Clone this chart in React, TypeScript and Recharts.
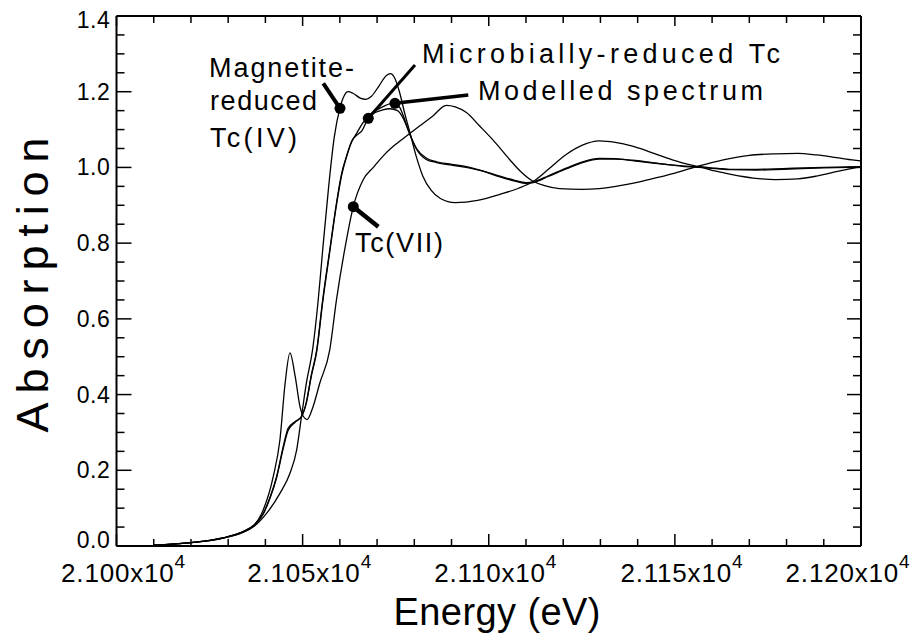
import React from 'react';
import { LineChart, Line, XAxis, YAxis, ReferenceDot, ReferenceLine } from 'recharts';

const FONT = '"Liberation Sans", Arial, Helvetica, sans-serif';

// ---- Data (energy in eV, normalised absorption) ----
const magnetiteE = [21010, 21015, 21020, 21025, 21030, 21034, 21037, 21040.3, 21043.9, 21046.6, 21048.4, 21049.7, 21051, 21052.7, 21054.2, 21055.4, 21057, 21058.5, 21060, 21061.2, 21062.2, 21063.5, 21065.5, 21067, 21068.5, 21070.5, 21072.5, 21073.6, 21074.8, 21076, 21077.5, 21078.8, 21080.5, 21082.3, 21084.5, 21087, 21091, 21097, 21103, 21108, 21111.8, 21116, 21120.8, 21125, 21129.7, 21134, 21138.6, 21143, 21147.6, 21152, 21156.5, 21161, 21165.4, 21171, 21177, 21183, 21188, 21194, 21200];
const magnetiteA = [0.003, 0.005, 0.009, 0.014, 0.024, 0.036, 0.052, 0.086, 0.139, 0.192, 0.254, 0.342, 0.43, 0.52, 0.651, 0.783, 0.95, 1.08, 1.156, 1.19, 1.2, 1.196, 1.183, 1.18, 1.188, 1.215, 1.243, 1.248, 1.235, 1.2, 1.14, 1.093, 1.03, 0.977, 0.94, 0.918, 0.907, 0.913, 0.929, 0.945, 0.962, 0.995, 1.034, 1.058, 1.07, 1.066, 1.056, 1.042, 1.026, 1.012, 1.002, 0.99, 0.981, 0.972, 0.968, 0.97, 0.977, 0.99, 1.002];

const microbialE = [21010, 21015, 21020, 21025, 21030, 21034, 21037, 21039.4, 21041.3, 21043, 21044.8, 21046.1, 21048, 21049.7, 21051, 21052.3, 21053.8, 21055.4, 21057.3, 21059, 21060.5, 21061.8, 21063.2, 21064.5, 21066, 21067.6, 21069.5, 21071.5, 21073.4, 21075.5, 21077, 21078.5, 21080.6, 21083.2, 21086, 21090, 21094, 21098.5, 21103, 21107, 21110, 21112, 21116, 21120.8, 21125, 21129.7, 21134, 21138.6, 21143, 21147.6, 21152, 21156.5, 21161, 21165, 21172, 21179, 21190, 21200];
const microbialA = [0.003, 0.005, 0.009, 0.015, 0.025, 0.038, 0.056, 0.086, 0.13, 0.183, 0.263, 0.311, 0.329, 0.342, 0.38, 0.45, 0.519, 0.651, 0.783, 0.9, 0.985, 1.03, 1.07, 1.085, 1.098, 1.13, 1.145, 1.152, 1.155, 1.15, 1.13, 1.095, 1.048, 1.021, 1.013, 1.006, 1.0, 0.99, 0.977, 0.966, 0.96, 0.962, 0.978, 0.998, 1.014, 1.024, 1.023, 1.018, 1.013, 1.008, 1.004, 1.002, 0.998, 0.995, 0.995, 0.997, 1.0, 1.002];

const modelE = [21010, 21015, 21020, 21025, 21030, 21034, 21037, 21039.4, 21041.3, 21043, 21044.8, 21046.1, 21048, 21049.7, 21051, 21052.3, 21053.8, 21055.4, 21057.3, 21059, 21060.5, 21061.8, 21063.2, 21064.5, 21066, 21067.6, 21069.5, 21071.5, 21073.4, 21074.8, 21076, 21077.3, 21078.7, 21080.6, 21083.2, 21086, 21090, 21094, 21098.5, 21103, 21107, 21110, 21112, 21116, 21120.8, 21125, 21129.7, 21134, 21138.6, 21143, 21147.6, 21152, 21156.5, 21161, 21165, 21172, 21179, 21190, 21200];
const modelA = [0.003, 0.005, 0.009, 0.015, 0.025, 0.038, 0.055, 0.084, 0.128, 0.18, 0.258, 0.305, 0.327, 0.342, 0.378, 0.447, 0.515, 0.645, 0.778, 0.895, 0.98, 1.028, 1.068, 1.09, 1.115, 1.135, 1.15, 1.16, 1.168, 1.169, 1.16, 1.13, 1.09, 1.05, 1.025, 1.015, 1.008, 1.002, 0.99, 0.975, 0.964, 0.958, 0.96, 0.976, 0.996, 1.012, 1.022, 1.022, 1.019, 1.014, 1.008, 1.003, 1.0, 0.997, 0.994, 0.993, 0.995, 0.999, 1.001];

const tcVIIE = [21010, 21015, 21020, 21025, 21030, 21034, 21037, 21039, 21042.1, 21043.9, 21045.3, 21046.6, 21048, 21049.3, 21050.2, 21051.2, 21052.8, 21054.6, 21057.3, 21059.1, 21061.3, 21063.6, 21066.3, 21069, 21071.6, 21074.5, 21077.9, 21081.5, 21085, 21088.6, 21091, 21094, 21097.5, 21101, 21105.6, 21108.5, 21111.8, 21115, 21119, 21125, 21129.7, 21136, 21143, 21150, 21156.5, 21163, 21170, 21177, 21183, 21188, 21192, 21196, 21200];
const tcVIIA = [0.003, 0.005, 0.009, 0.014, 0.024, 0.037, 0.055, 0.086, 0.183, 0.28, 0.43, 0.51, 0.448, 0.368, 0.342, 0.334, 0.368, 0.43, 0.519, 0.651, 0.783, 0.896, 0.968, 1.0, 1.03, 1.057, 1.083, 1.11, 1.136, 1.164, 1.16, 1.145, 1.11, 1.074, 1.021, 0.99, 0.964, 0.952, 0.944, 0.942, 0.944, 0.953, 0.968, 0.985, 1.004, 1.02, 1.032, 1.036, 1.037, 1.033, 1.028, 1.022, 1.017];

// ---- Axes ----
const xTicks = [21000, 21010, 21020, 21030, 21040, 21050, 21060, 21070, 21080, 21090, 21100, 21110, 21120, 21130, 21140, 21150, 21160, 21170, 21180, 21190, 21200];
const xMajorTicks = [21000, 21050, 21100, 21150, 21200];
const yTicks = [0, 0.05, 0.1, 0.15, 0.2, 0.25, 0.3, 0.35, 0.4, 0.45, 0.5, 0.55, 0.6, 0.65, 0.7, 0.75, 0.8, 0.85, 0.9, 0.95, 1.0, 1.05, 1.1, 1.15, 1.2, 1.25, 1.3, 1.35, 1.4];
const yMajorTicks = [0, 0.2, 0.4, 0.6, 0.8, 1.0, 1.2, 1.4];

// ---- Callouts ----
const calloutNames = ['magnetite', 'microbial', 'model', 'tcVII'];
const calloutDotE = [21060.04, 21067.64, 21074.8, 21063.61];
const calloutDotA = [1.1561, 1.1297, 1.1693, 0.8962];
const calloutEndE = [21055.55, 21080.19, 21094.5, 21070.33];
const calloutEndA = [1.2222, 1.2705, 1.1912, 0.8434];
const calloutWidths = [4, 3, 3.5, 4.5];

const labelTexts = ['Magnetite-', 'reduced', 'Tc(IV)', 'Microbially-reduced Tc', 'Modelled spectrum', 'Tc(VII)'];
const labelE = [21024.85, 21025.12, 21025.12, 21082.07, 21097.1, 21064.07];
const labelA = [1.2388, 1.1516, 1.0539, 1.2758, 1.178, 0.7765];
const labelLengths = [145, 107, 87, 358, 285, 88];

const zip = (es: number[], as: number[]) => es.map((e, i) => ({ e, a: as[i] }));

const isMajorX = (v: number) => xMajorTicks.includes(v);
const isMajorY = (v: number) => yMajorTicks.some((m) => Math.abs(m - v) < 1e-6);

const BottomTick = (p: any) => {
  const { x, y, payload } = p;
  const v = payload.value as number;
  const major = isMajorX(v);
  const shift = v === 21200 ? -20 : 0;
  return (
    <g>
      <line x1={x} x2={x} y1={y} y2={y - (major ? 12 : 7)} stroke="#000" strokeWidth={1.5} />
      {major && (
        <text x={x + 7 + shift} y={y + 36} textAnchor="middle" fontFamily={FONT} fontSize={26} letterSpacing={0.8} fill="#000">
          {(v / 10000).toFixed(3) + 'x10'}
          <tspan dy={-14} fontSize={19}>4</tspan>
        </text>
      )}
    </g>
  );
};

const TopTick = (p: any) => {
  const { x, y, payload } = p;
  const major = isMajorX(payload.value);
  return <line x1={x} x2={x} y1={y} y2={y + (major ? 10 : 7)} stroke="#000" strokeWidth={1.5} />;
};

const LeftTick = (p: any) => {
  const { x, y, payload } = p;
  const v = payload.value as number;
  const major = isMajorY(v);
  let dy = 8;
  if (v === 0) dy = 2;
  if (Math.abs(v - 1.4) < 1e-6) dy = 12;
  return (
    <g>
      <line x1={x} x2={x + (major ? 15 : 8)} y1={y} y2={y} stroke="#000" strokeWidth={1.5} />
      {major && (
        <text x={x - 6} y={y + dy} textAnchor="end" fontFamily={FONT} fontSize={23} letterSpacing={0.6} fill="#000">
          {v.toFixed(1)}
        </text>
      )}
    </g>
  );
};

const RightTick = (p: any) => {
  const { x, y, payload } = p;
  const major = isMajorY(payload.value);
  return <line x1={x} x2={x - (major ? 14 : 8)} y1={y} y2={y} stroke="#000" strokeWidth={1.5} />;
};

const XTitle = () => (
  <text x={497} y={625} textAnchor="middle" fontFamily={FONT} fontSize={38} textLength={207} lengthAdjust="spacing" fill="#000">
    Energy (eV)
  </text>
);

const YTitle = () => (
  <text
    x={48}
    y={285}
    transform="rotate(-90 48 285)"
    textAnchor="middle"
    fontFamily={FONT}
    fontSize={45}
    textLength={295}
    lengthAdjust="spacing"
    fill="#000"
  >
    Absorption
  </text>
);

const seriesList = [
  { key: 'magnetite', data: zip(magnetiteE, magnetiteA) },
  { key: 'microbial', data: zip(microbialE, microbialA) },
  { key: 'model', data: zip(modelE, modelA) },
  { key: 'tcVII', data: zip(tcVIIE, tcVIIA) },
];

export default function App() {
  return (
    <div style={{ position: 'absolute', left: 0, top: 0, width: 913, height: 640, background: '#fff' }}>
      <LineChart width={913} height={640} margin={{ top: 6, right: 42, bottom: 64, left: 56.5 }}>
        <XAxis
          xAxisId="b"
          dataKey="e"
          type="number"
          domain={[21000, 21200]}
          ticks={xTicks}
          interval={0}
          height={30}
          tickSize={0}
          tickMargin={0}
          tickLine={false}
          axisLine={{ stroke: '#000', strokeWidth: 2 }}
          tick={(p: any) => <BottomTick {...p} />}
          allowDataOverflow
          label={() => <XTitle />}
        />
        <XAxis
          xAxisId="t"
          orientation="top"
          dataKey="e"
          type="number"
          domain={[21000, 21200]}
          ticks={xTicks}
          interval={0}
          height={10}
          tickSize={0}
          tickMargin={0}
          tickLine={false}
          axisLine={{ stroke: '#000', strokeWidth: 2 }}
          tick={(p: any) => <TopTick {...p} />}
          allowDataOverflow
        />
        <YAxis
          yAxisId="l"
          type="number"
          domain={[0, 1.4]}
          ticks={yTicks}
          interval={0}
          width={60}
          tickSize={0}
          tickMargin={0}
          tickLine={false}
          axisLine={{ stroke: '#000', strokeWidth: 2 }}
          tick={(p: any) => <LeftTick {...p} />}
          allowDataOverflow
          label={() => <YTitle />}
        />
        <YAxis
          yAxisId="r"
          orientation="right"
          type="number"
          domain={[0, 1.4]}
          ticks={yTicks}
          interval={0}
          width={10}
          tickSize={0}
          tickMargin={0}
          tickLine={false}
          axisLine={{ stroke: '#000', strokeWidth: 2 }}
          tick={(p: any) => <RightTick {...p} />}
          allowDataOverflow
        />
        {seriesList.map((s) => (
          <Line
            key={s.key}
            xAxisId="b"
            yAxisId="l"
            data={s.data}
            dataKey="a"
            type="monotone"
            dot={false}
            stroke="#000"
            strokeWidth={1.3}
            isAnimationActive={false}
          />
        ))}
        {calloutNames.map((n, i) => (
          <ReferenceLine
            key={'cl-' + n}
            xAxisId="b"
            yAxisId="l"
            segment={[
              { x: calloutDotE[i], y: calloutDotA[i] },
              { x: calloutEndE[i], y: calloutEndA[i] },
            ]}
            stroke="#000"
            strokeWidth={calloutWidths[i]}
            ifOverflow="visible"
          />
        ))}
        {calloutNames.map((n, i) => (
          <ReferenceDot
            key={'cd-' + n}
            xAxisId="b"
            yAxisId="l"
            x={calloutDotE[i]}
            y={calloutDotA[i]}
            r={5.5}
            fill="#000"
            stroke="none"
          />
        ))}
        {labelTexts.map((t, i) => (
          <ReferenceDot
            key={'lt-' + i}
            xAxisId="b"
            yAxisId="l"
            x={labelE[i]}
            y={labelA[i]}
            r={1}
            ifOverflow="visible"
            shape={(p: any) => (
              <text
                x={p.cx}
                y={p.cy}
                fontFamily={FONT}
                fontSize={27}
                textLength={labelLengths[i]}
                lengthAdjust="spacing"
                fill="#000"
              >
                {t}
              </text>
            )}
          />
        ))}
      </LineChart>
    </div>
  );
}
